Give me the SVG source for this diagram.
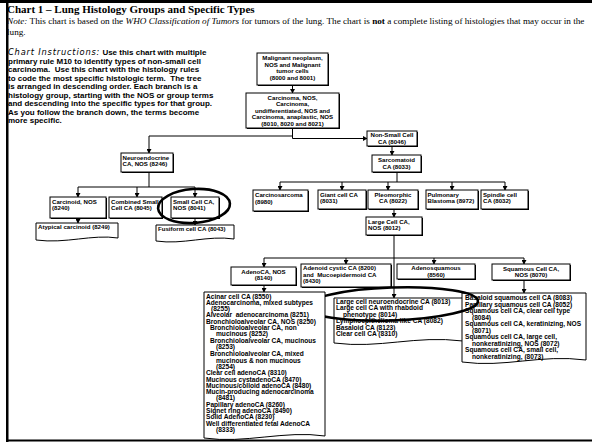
<svg xmlns="http://www.w3.org/2000/svg" width="592" height="445" viewBox="0 0 592 445">
<defs>
<style>
.t{font-family:"Liberation Sans",Arial,sans-serif;font-weight:bold;font-size:6.1px;fill:#000}
.l{font-family:"Liberation Sans",Arial,sans-serif;font-weight:bold;font-size:6.6px;fill:#000}
.c{text-anchor:middle}
.ins{font-family:"Liberation Sans",Arial,sans-serif;font-weight:bold;font-size:8px;fill:#000}
.it{font-family:"DejaVu Sans",Verdana,sans-serif;font-style:italic;font-weight:normal;font-size:8.3px;letter-spacing:0.8px}
.tm{font-family:"Liberation Serif","Times New Roman",serif;font-size:9.2px;fill:#000}
.ttl{font-family:"Liberation Serif","Times New Roman",serif;font-weight:bold;font-size:11px;fill:#000}
.bx{fill:#fff;stroke:#000;stroke-width:1}
.sh{fill:#000}
.doc{fill:#fff;stroke:#000;stroke-width:1}
.ln{fill:none;stroke:#000;stroke-width:1}
.ar{fill:none;stroke:#000;stroke-width:1;marker-end:url(#ah)}
.el{fill:none;stroke:#000;stroke-width:2.6}
.pre{white-space:pre}
</style>
<marker id="ah" markerUnits="userSpaceOnUse" markerWidth="5" markerHeight="5" refX="4" refY="2.5" orient="auto">
<path d="M0,0 L4.5,2.5 L0,5 Z" fill="#000"/>
</marker>
<clipPath id="cpComb"><rect x="109" y="197" width="53" height="21"/></clipPath>
</defs>
<rect width="592" height="445" fill="#fff"/>

<g id="header">
<text class="ttl" x="7" y="13">Chart 1 – Lung Histology Groups and Specific Types</text>
<text class="tm" x="7" y="24"><tspan font-style="italic">Note:</tspan>  This chart is based on the <tspan font-style="italic">WHO Classification of Tumors</tspan> for tumors of the lung. The chart is <tspan font-weight="bold">not</tspan> a complete listing of histologies that may occur in the</text>
<text class="tm" x="7" y="35">lung.</text>
</g>

<g id="instructions">
<text class="ins" x="8" y="55"><tspan class="it">Chart Instructions:</tspan>  Use this chart with multiple</text>
<text class="ins" x="8" y="63.5">primary rule M10 to identify types of non-small cell</text>
<text class="ins pre" x="8" y="72">carcinoma.  Use this chart with the histology rules</text>
<text class="ins pre" x="8" y="80.5">to code the most specific histologic term.  The tree</text>
<text class="ins" x="8" y="89">is arranged in descending order. Each branch is a</text>
<text class="ins" x="8" y="97.5">histology group, starting with the NOS or group terms</text>
<text class="ins" x="8" y="106">and descending into the specific types for that group.</text>
<text class="ins" x="8" y="114.5">As you follow the branch down, the terms become</text>
<text class="ins" x="8" y="123">more specific.</text>
</g>

<g id="connectors">
<line class="ar" x1="292.5" y1="85" x2="292.5" y2="93"/>
<polyline class="ln" points="292.5,128 292.5,138.5"/>
<line class="ar" x1="292.5" y1="138.5" x2="367" y2="138.5"/>
<polyline class="ar" points="292.5,136 149,136 149,153"/>
<line class="ar" x1="392" y1="146" x2="392" y2="155"/>
<line class="ln" x1="397" y1="172" x2="397" y2="182"/>
<line class="ln" x1="280" y1="182" x2="505" y2="182"/>
<line class="ar" x1="280" y1="182" x2="280" y2="190"/>
<line class="ar" x1="342" y1="182" x2="342" y2="190"/>
<line class="ar" x1="388" y1="182" x2="388" y2="190"/>
<line class="ar" x1="452" y1="182" x2="452" y2="190"/>
<line class="ar" x1="505" y1="182" x2="505" y2="190"/>
<line class="ar" x1="394" y1="209" x2="394" y2="217"/>
<line class="ar" x1="394" y1="235" x2="394" y2="298"/>
<line class="ln" x1="264" y1="258" x2="524" y2="258"/>
<line class="ar" x1="264" y1="258" x2="264" y2="267"/>
<line class="ar" x1="346" y1="258" x2="346" y2="264"/>
<line class="ar" x1="434" y1="258" x2="434" y2="264"/>
<line class="ar" x1="524" y1="258" x2="524" y2="264"/>
<line class="ar" x1="524" y1="280" x2="524" y2="293"/>
<line class="ar" x1="264" y1="285" x2="264" y2="292"/>
<line class="ln" x1="149" y1="172" x2="149" y2="187"/>
<line class="ln" x1="78" y1="187" x2="195" y2="187"/>
<line class="ar" x1="78" y1="187" x2="78" y2="197"/>
<line class="ar" x1="137" y1="187" x2="137" y2="197"/>
<line class="ar" x1="195" y1="187" x2="195" y2="197"/>
<line class="ar" x1="78" y1="218" x2="78" y2="223"/>
<line class="ar" x1="195" y1="218" x2="195" y2="225"/>
</g>

<g id="n1">
<rect class="sh" x="258" y="54" width="71" height="32"/><rect class="bx" x="257" y="53" width="71" height="32"/>
<text class="t c" x="292.5" y="60">Malignant neoplasm,</text>
<text class="t c" x="292.5" y="66.6">NOS and Malignant</text>
<text class="t c" x="292.5" y="73.2">tumor cells</text>
<text class="t c" x="292.5" y="79.8">(8000 and 8001)</text>
</g>
<g id="n2">
<rect class="sh" x="247" y="94" width="93" height="35"/><rect class="bx" x="246" y="93" width="93" height="35"/>
<text class="t c" x="292.5" y="99.5">Carcinoma, NOS,</text>
<text class="t c" x="292.5" y="106">Carcinoma,</text>
<text class="t c" x="292.5" y="112.5">undifferentiated, NOS and</text>
<text class="t c" x="292.5" y="119">Carcinoma, anaplastic, NOS</text>
<text class="t c" x="292.5" y="125.5">(8010, 8020 and 8021)</text>
</g>
<g id="n3">
<rect class="sh" x="368" y="132" width="50" height="15"/><rect class="bx" x="367" y="131" width="50" height="15"/>
<text class="t c" x="392" y="137.3">Non-Small Cell</text>
<text class="t c" x="392" y="143.9">CA (8046)</text>
</g>
<g id="n4">
<rect class="sh" x="373" y="156" width="49" height="17"/><rect class="bx" x="372" y="155" width="49" height="17"/>
<text class="t c" x="396.5" y="162">Sarcomatoid</text>
<text class="t c" x="396.5" y="168.6">CA (8033)</text>
</g>
<g id="n5">
<rect class="sh" x="254" y="191" width="55" height="21"/><rect class="bx" x="253" y="190" width="55" height="21"/>
<text class="t" x="255" y="197">Carcinosarcoma</text>
<text class="t" x="255" y="203.6">(8980)</text>
</g>
<g id="n6">
<rect class="sh" x="319" y="191" width="48" height="19"/><rect class="bx" x="318" y="190" width="48" height="19"/>
<text class="t" x="320" y="196.5">Giant cell CA</text>
<text class="t" x="320" y="203.1">(8031)</text>
</g>
<g id="n7">
<rect class="sh" x="369" y="191" width="50" height="19"/><rect class="bx" x="368" y="190" width="50" height="19"/>
<text class="t c" x="393" y="196.5">Pleomorphic</text>
<text class="t c" x="393" y="203.1">CA (8022)</text>
</g>
<g id="n8">
<rect class="sh" x="427" y="191" width="52" height="19"/><rect class="bx" x="426" y="190" width="52" height="19"/>
<text class="t" x="427.5" y="196.5">Pulmonary</text>
<text class="t" x="427.5" y="203.1">Blastoma (8972)</text>
</g>
<g id="n9">
<rect class="sh" x="482" y="191" width="47" height="19"/><rect class="bx" x="481" y="190" width="47" height="19"/>
<text class="t" x="483" y="196.5">Spindle cell</text>
<text class="t" x="483" y="203.1">CA (8032)</text>
</g>
<g id="n10">
<rect class="sh" x="367" y="218" width="56" height="18"/><rect class="bx" x="366" y="217" width="56" height="18"/>
<text class="t" x="368" y="223.5">Large Cell CA,</text>
<text class="t" x="368" y="230.1">NOS (8012)</text>
</g>
<g id="n11">
<rect class="sh" x="232" y="268" width="65" height="18"/><rect class="bx" x="231" y="267" width="65" height="18"/>
<text class="t c" x="263.5" y="273.5">AdenoCA, NOS</text>
<text class="t c" x="263.5" y="280.1">(8140)</text>
</g>
<g id="n12">
<rect class="sh" x="302" y="265" width="90" height="23"/><rect class="bx" x="301" y="264" width="90" height="23"/>
<text class="t" x="303" y="270">Adenoid cystic CA (8200)</text>
<text class="t pre" x="303" y="276.6">and  Mucoepidermoid CA</text>
<text class="t" x="303" y="283.2">(8430)</text>
</g>
<g id="n13">
<rect class="sh" x="398" y="265" width="78" height="15"/><rect class="bx" x="397" y="264" width="78" height="15"/>
<text class="t c" x="436" y="270.3">Adenosquamous</text>
<text class="t c" x="436" y="276.9">(8560)</text>
</g>
<g id="n14">
<rect class="sh" x="493" y="265" width="78" height="16"/><rect class="bx" x="492" y="264" width="78" height="16"/>
<text class="t c" x="531" y="270.5">Squamous Cell CA,</text>
<text class="t c" x="531" y="277.1">NOS (8070)</text>
</g>

<g id="n16">
<path class="doc" d="M334,298 H463 V341 C415,335 380,349 334,343 Z"/>
<text class="l" x="336" y="303.5">Large cell neuroendocrine CA (8013)</text>
<text class="l" x="336" y="310">Large cell CA with rhabdoid</text>
<text class="l" x="343" y="316.5">phenotype (8014)</text>
<text class="l" x="336" y="323">Lymphoepithelioma like CA (8082)</text>
<text class="l" x="336" y="329.5">Basaloid CA (8123)</text>
<text class="l" x="336" y="336">Clear cell CA (8310)</text>
</g>
<g id="n17">
<path class="doc" d="M462,293 H586 V360 C540,354 505,368 462,362 Z"/>
<text class="l" x="465" y="300">Basaloid squamous cell CA (8083)</text>
<text class="l" x="465" y="306.5">Papillary squamous cell CA (8052)</text>
<text class="l" x="465" y="313">Squamous cell CA, clear cell type</text>
<text class="l" x="472" y="319.5">(8084)</text>
<text class="l" x="465" y="326">Squamous cell CA, keratinizing, NOS</text>
<text class="l" x="472" y="332.5">(8071)</text>
<text class="l" x="465" y="339">Squamous cell CA, large cell,</text>
<text class="l" x="472" y="345.5">nonkeratinizing, NOS (8072)</text>
<text class="l" x="465" y="352">Squamous cell CA, small cell,</text>
<text class="l" x="472" y="358.5">nonkeratinizing, (8073)</text>
</g>

<g id="ellipse2"><ellipse class="el" cx="392" cy="304" rx="86" ry="16.5" transform="rotate(-2 392 304)"/></g>

<g id="n15">
<path class="doc" d="M204,292 H325 V436 C285,430 245,444 204,438 Z"/>
<text class="l" x="206" y="298.5">Acinar cell CA (8550)</text>
<text class="l" x="206" y="304.8">Adenocarcinoma, mixed subtypes</text>
<text class="l" x="211" y="311.1">(8255)</text>
<text class="l pre" x="206" y="317.4">Alveolar  adenocarcinoma (8251)</text>
<text class="l" x="206" y="323.7">Bronchioloalveolar CA, NOS (8250)</text>
<text class="l" x="210" y="330">Bronchioloalveolar CA, non</text>
<text class="l" x="216" y="336.3">mucinous (8252)</text>
<text class="l" x="210" y="342.6">Bronchioloalveolar CA, mucinous</text>
<text class="l" x="216" y="348.9">(8253)</text>
<text class="l" x="210" y="356.3">Bronchioloalveolar CA, mixed</text>
<text class="l" x="216" y="362.6">mucinous &amp; non mucinous</text>
<text class="l" x="216" y="368.9">(8254)</text>
<text class="l" x="206" y="375.2">Clear cell adenoCA (8310)</text>
<text class="l" x="206" y="381.5">Mucinous cystadenoCA (8470)</text>
<text class="l" x="206" y="387.8">Mucinous/colloid adenoCA (8480)</text>
<text class="l" x="206" y="394.1">Mucin-producing adenocarcinoma</text>
<text class="l" x="216" y="400.4">(8481)</text>
<text class="l" x="206" y="406.7">Papillary adenoCA (8260)</text>
<text class="l" x="206" y="413">Signet ring adenoCA (8490)</text>
<text class="l" x="206" y="419.3">Solid AdenoCA (8230)</text>
<text class="l" x="206" y="425.6">Well differentiated fetal AdenoCA</text>
<text class="l" x="216" y="431.9">(8333)</text>
</g>

<g id="n18">
<rect class="sh" x="122" y="154" width="52" height="19"/><rect class="bx" x="121" y="153" width="52" height="19"/>
<text class="t" x="122.5" y="159.5">Neuroendocrine</text>
<text class="t" x="122.5" y="166.1">CA, NOS (8246)</text>
</g>
<g id="n19">
<rect class="sh" x="51" y="198" width="56" height="21"/><rect class="bx" x="50" y="197" width="56" height="21"/>
<text class="t" x="52" y="203.5">Carcinoid, NOS</text>
<text class="t" x="52" y="210.1">(8240)</text>
</g>
<g id="n20">
<rect class="sh" x="110" y="198" width="53" height="21"/><rect class="bx" x="109" y="197" width="53" height="21"/>
<g clip-path="url(#cpComb)">
<text class="t" x="111" y="203.5">Combined Small</text>
<text class="t" x="111" y="210.1">Cell CA (8045)</text>
</g>
</g>
<g id="n21">
<rect class="sh" x="172" y="198" width="48" height="21"/><rect class="bx" x="171" y="197" width="48" height="21"/>
<text class="t" x="173" y="203.5">Small Cell CA,</text>
<text class="t" x="173" y="210.1">NOS (8041)</text>
</g>
<g id="ellipse1"><ellipse class="el" cx="194" cy="206" rx="36" ry="17" transform="rotate(-4 194 206)"/></g>
<g id="n22">
<path class="doc" d="M36,223 H118 V238 C92,234 66,244 36,240 Z"/>
<text class="t" x="38" y="229">Atypical carcinoid (8249)</text>
</g>
<g id="n23">
<path class="doc" d="M156,225 H234 V239 C208,235 183,245 156,241 Z"/>
<text class="t" x="158" y="231">Fusiform cell CA (8043)</text>
</g>

<g id="frame">
<rect x="0" y="0" width="592" height="3" fill="#000"/>
<rect x="6" y="0" width="2.5" height="442" fill="#000"/>
<rect x="6" y="439.5" width="586" height="2" fill="#000"/>
</g>
</svg>
